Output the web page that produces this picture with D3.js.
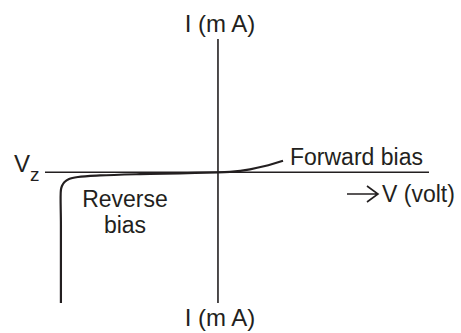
<!DOCTYPE html>
<html>
<head>
<meta charset="utf-8">
<script src="https://cdn.jsdelivr.net/npm/d3@7"></script>
<style>
  body { margin: 0; background: #fff; }
  text { font-family: "Liberation Sans", Arial, sans-serif; fill: #231f20; }
</style>
</head>
<body>
<div id="chart"></div>
<script>
var width = 461,
    height = 333,
    ink = "#231f20";

// characteristic curve, V (volt) vs I (mA), arbitrary units
var reverseV = [-9.08, -9.08, -9.08, -9.02, -8.87, -8.61, -8.09, -6.82, -4.5, -2.2, 0];
var reverseI = [-10, -4, -1.35, -1.05, -0.74, -0.51, -0.36, -0.24, -0.14, -0.08, 0];
var forwardV = [0, 0.69, 1.85, 2.72, 3.76];
var forwardI = [0, 0.04, 0.23, 0.48, 0.89];

var axisLabelTop = "I (m A)",
    axisLabelBottom = "I (m A)",
    axisLabelV = "V (volt)",
    zenerLabel = "V",
    zenerSub = "z";

var svg = d3.select("#chart").append("svg")
    .attr("width", width)
    .attr("height", height);

var x = d3.scaleLinear().domain([-10, 12.2]).range([45, 429]);
var y = d3.scaleLinear().domain([-10, 10.2]).range([303, 39]);

// axes
svg.append("line")
    .attr("x1", x(-10)).attr("x2", x(12.2))
    .attr("y1", y(0)).attr("y2", y(0))
    .attr("stroke", ink).attr("stroke-width", 1.6);

svg.append("line")
    .attr("x1", x(0)).attr("x2", x(0))
    .attr("y1", y(10.2)).attr("y2", y(-10))
    .attr("stroke", ink).attr("stroke-width", 1.6);

var line = d3.line()
    .x(function (d) { return x(d[0]); })
    .y(function (d) { return y(d[1]); })
    .curve(d3.curveCatmullRom.alpha(0.5));

var reverse = d3.zip(reverseV, reverseI),
    forward = d3.zip(forwardV, forwardI);

svg.append("path")
    .attr("d", line(reverse))
    .attr("fill", "none")
    .attr("stroke", ink).attr("stroke-width", 2.2);

svg.append("path")
    .attr("d", line(forward))
    .attr("fill", "none")
    .attr("stroke", ink).attr("stroke-width", 2.2);

// labels
svg.append("text")
    .attr("x", x(0) + 2).attr("y", 32)
    .attr("text-anchor", "middle")
    .style("font-size", "24px")
    .text(axisLabelTop);

svg.append("text")
    .attr("x", x(0) + 2).attr("y", 326)
    .attr("text-anchor", "middle")
    .style("font-size", "24px")
    .text(axisLabelBottom);

var vz = svg.append("text")
    .attr("x", 14).attr("y", 172)
    .style("font-size", "24px");
vz.append("tspan").text(zenerLabel);
vz.append("tspan").attr("dy", 9).style("font-size", "19px").text(zenerSub);

svg.append("text")
    .attr("x", 125).attr("y", 207)
    .attr("text-anchor", "middle")
    .style("font-size", "23px")
    .text("Reverse");

svg.append("text")
    .attr("x", 125).attr("y", 233)
    .attr("text-anchor", "middle")
    .style("font-size", "23px")
    .text("bias");

svg.append("text")
    .attr("x", 290).attr("y", 165)
    .style("font-size", "23px")
    .text("Forward bias");

// arrow before V (volt)
svg.append("path")
    .attr("d", "M347,194H378M367,186L378,194L367,202")
    .attr("fill", "none")
    .attr("stroke", ink).attr("stroke-width", 1.6);

svg.append("text")
    .attr("x", 382).attr("y", 202)
    .style("font-size", "23px")
    .text(axisLabelV);
</script>
</body>
</html>
